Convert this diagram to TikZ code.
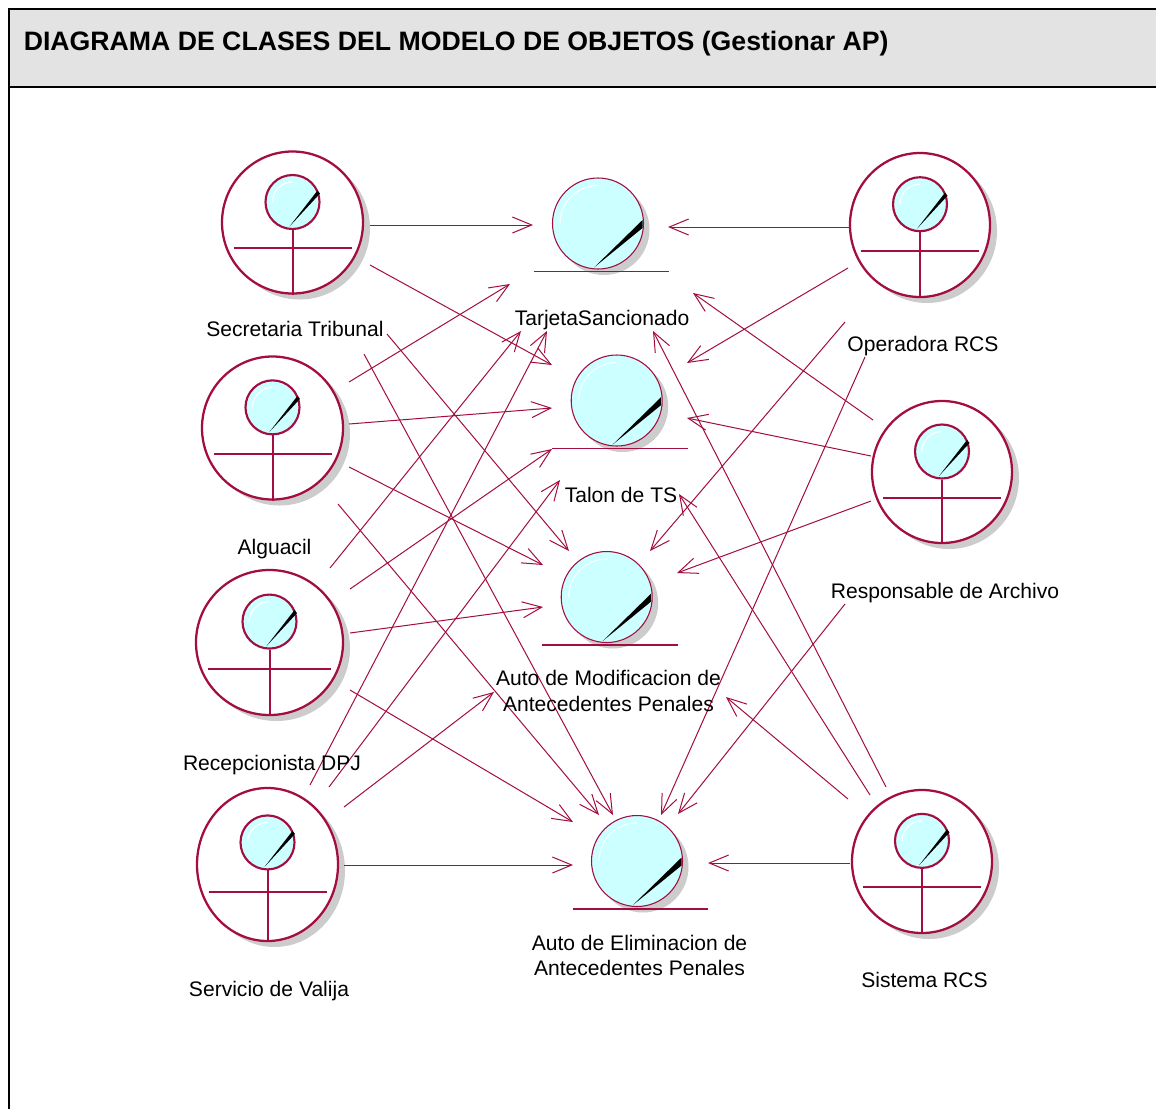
\documentclass[tikz,border=0pt]{standalone}
\usepackage{fontspec}
\setmainfont{Liberation Sans}
\usetikzlibrary{arrows.meta,shapes.geometric}
\definecolor{rosered}{HTML}{A30D3F}
\definecolor{rosefill}{HTML}{CCFFFF}
\definecolor{roseshadow}{HTML}{CCCCCC}
\definecolor{headgrey}{HTML}{E3E3E3}
\tikzset{
  x=0.75pt,y=-0.75pt,
  framebox/.style={draw=black,line width=1.5pt},
  conn/.style={draw=rosered,line width=0.75pt,-{Straight Barb[length=14.5pt,width=12pt,line width=0.75pt]}},
  actorbody/.style={ellipse,draw=rosered,line width=1.7pt,fill=white,inner sep=0pt},
  actorhead/.style={circle,draw=rosered,line width=1.6pt,fill=rosefill,inner sep=0pt,minimum size=40.5pt},
  entitybody/.style={circle,draw=rosered,line width=0.8pt,fill=rosefill,inner sep=0pt,minimum size=68.25pt},
  shadowfill/.style={fill=roseshadow,draw=none},
  limb/.style={draw=rosered,line width=1.5pt,line cap=butt},
  baseline rule/.style={draw=rosered,line width=0.8pt},
  lbl/.style={font=\fontsize{15.8}{19}\selectfont,text=black,align=center,inner sep=0pt},
  titletext/.style={font=\fontsize{20}{24}\selectfont\bfseries,text=black,anchor=west,inner sep=0pt}
}
% name, cx, cy, rx, ry
\newcommand{\umlactor}[5]{%
  \begin{scope}[shift={(#2,#3)}]
    \pgfmathsetmacro{\ksy}{#5/71}
    \pgfmathsetmacro{\ksx}{#4/70.5}
    \fill[shadowfill] (7,6) ellipse [x radius=#4,y radius=#5];
    \node[actorbody,minimum width={#4*1.5pt},minimum height={#5*1.5pt}] (#1) at (0,0) {};
    \node[actorhead] (#1h) at (0,{-20.5*\ksy}) {};
    \draw[limb] (#1h.south) -- (#1.south);
    \draw[limb] ({-59*\ksx},{25.5*\ksy}) -- ({59*\ksx},{25.5*\ksy});
    \begin{scope}[shift={(0,{-20.5*\ksy})}]
      \fill[black] (-3,24.5) -- (25,-11.5) -- (27.5,-8.5) -- cycle;
      \draw[white,line width=0.9pt] (0,-20) arc [start angle=-90,end angle=-180,radius=20];
    \end{scope}
  \end{scope}}
% name, cx, cy
\newcommand{\umlentity}[3]{%
  \begin{scope}[shift={(#2,#3)}]
    \fill[shadowfill] (6,6) circle [radius=45.5];
    \draw[baseline rule] (-64.5,48) -- (71,48);
    \node[entitybody] (#1) at (0,0) {};
    \fill[black] (-4,44) -- (44.5,-3.5) -- (44.5,4.5) -- cycle;
    \draw[white,line width=0.7pt] (0,-38) arc [start angle=-90,end angle=-180,radius=38];
  \end{scope}}
\newcommand{\cn}[5]{%
  \coordinate (#1s) at (#2,#3);
  \coordinate (#1e) at (#4,#5);
  \draw[conn] (#1s) -- (#1e);}
\begin{document}
\begin{tikzpicture}
\useasboundingbox (0,0) rectangle (1156,1108);
\fill[white] (0,0) rectangle (1156,1108);
\fill[headgrey] (9,9) rectangle (1170,87);
\draw[framebox] (9,1125) -- (9,9) -- (1170,9);
\draw[framebox] (9,87) -- (1170,87);
\node[titletext] (title) at (23.5,43.5) {DIAGRAMA DE CLASES DEL MODELO DE OBJETOS (Gestionar AP)};

\umlactor{sec}{292.5}{222.5}{70.5}{71}
\umlactor{alg}{272.5}{428}{70.5}{71.5}
\umlactor{rec}{269.5}{642.5}{73.5}{72.5}
\umlactor{ser}{267.5}{864.5}{70.5}{76.5}
\umlactor{ope}{920}{225}{70}{72}
\umlactor{res}{942}{472}{70}{71}
\umlactor{sis}{922}{861.5}{70}{71.5}

\umlentity{tar}{598}{223.5}
\umlentity{tal}{616.7}{400.5}
\umlentity{mod}{606.7}{597}
\umlentity{eli}{637}{861}

% Secretaria Tribunal
\cn{a1}{370}{225}{533}{225}
\cn{a2}{370}{265}{552}{365}
\cn{a3}{387}{334}{569}{551}
\cn{a4}{364}{354}{613}{815}
% Alguacil
\cn{b1}{349}{382}{510}{284}
\cn{b2}{349}{424}{552}{408}
\cn{b3}{349}{467}{543}{565}
\cn{b4}{338}{504}{599}{815}
% Recepcionista DPJ
\cn{c1}{330}{568}{521}{331}
\cn{c2}{350}{589}{552}{449}
\cn{c3}{350}{633}{543}{607}
\cn{c4}{350}{690}{573}{822}
% Servicio de Valija
\cn{d1}{310}{785}{547}{331}
\cn{d2}{329}{787}{560}{480}
\cn{d3}{344}{807}{494}{692}
\cn{d4}{344}{865}{573}{865}
% Operadora RCS
\cn{e1}{849}{227}{668}{227}
\cn{e2}{848}{268}{687}{363}
\cn{e3}{845}{322}{650}{551}
\cn{e4}{865}{357}{661}{815}
% Responsable de Archivo
\cn{f1}{873}{420}{693}{293}
\cn{f2}{871}{456}{687}{418}
\cn{f3}{871}{501}{677}{573}
\cn{f4}{845}{604}{678}{814}
% Sistema RCS
\cn{g1}{886}{787}{653}{331}
\cn{g2}{870}{795}{679}{494}
\cn{g3}{848}{799}{726}{697}
\cn{g4}{850}{863}{708}{863}

\node[lbl] (lsec) at (295,329) {Secretaria Tribunal};
\node[lbl] (lalg) at (274.5,549.5) {Alguacil};
\node[lbl] (lrec) at (272,765) {Recepcionista DPJ};
\node[lbl] (lser) at (269,991.5) {Servicio de Valija};
\node[lbl] (lope) at (923,346.5) {Operadora RCS};
\node[lbl] (lres) at (945,593.5) {Responsable de Archivo};
\node[lbl] (lsis) at (924.5,980) {Sistema RCS};
\node[lbl] (ltar) at (602,320.5) {TarjetaSancionado};
\node[lbl] (ltal) at (621,495) {Talon de TS};
\node[lbl] (lmod) at (608.5,691) {Auto de Modificacion de\\Antecedentes Penales};
\node[lbl] (leli) at (639.5,955.5) {Auto de Eliminacion de\\Antecedentes Penales};
\end{tikzpicture}
\end{document}
